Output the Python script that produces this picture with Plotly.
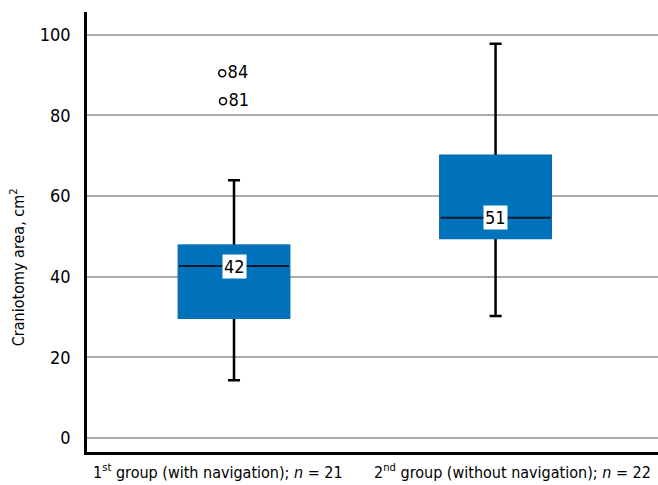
import plotly.graph_objects as go

# ---- data ----
groups = ["1<sup>st</sup> group (with navigation); <i>n</i> = 21",
          "2<sup>nd</sup> group (without navigation); <i>n</i> = 22"]
positions = [0, 1]
label_positions = [-0.061, 1.063]
q1 = [29.8, 49.6]
median = [42.6, 54.6]
q3 = [47.6, 69.9]
lower_whisker = [14.3, 30.2]
upper_whisker = [63.9, 97.7]
median_labels = ["42", "51"]
outlier_x = [-0.045, -0.042]
outlier_y = [90.4, 83.5]
outlier_labels = ["84", "81"]
y_ticks = [0, 20, 40, 60, 80, 100]

FONT = "DejaVu Sans Condensed"
BLUE = "#0072BC"
BOX_W = 0.42

fig = go.Figure()

fig.add_trace(go.Box(
    x=positions, q1=q1, median=median, q3=q3,
    lowerfence=lower_whisker, upperfence=upper_whisker,
    width=BOX_W, whiskerwidth=0.11,
    line=dict(color="black", width=2.5), fillcolor="black",
    boxpoints=False, hoverinfo="skip", showlegend=False))

fig.add_trace(go.Box(
    x=positions, q1=q1, median=median, q3=q3,
    lowerfence=q1, upperfence=q3,
    width=BOX_W, whiskerwidth=0,
    line=dict(color=BLUE, width=2.6), fillcolor=BLUE,
    boxpoints=False, hoverinfo="skip", showlegend=False))

for p, m in zip(positions, median):
    fig.add_trace(go.Scatter(
        x=[p - BOX_W / 2, p + BOX_W / 2], y=[m, m], mode="lines",
        line=dict(color="#0a1a2a", width=2), hoverinfo="skip", showlegend=False))

fig.add_trace(go.Scatter(
    x=outlier_x, y=outlier_y, mode="markers+text",
    marker=dict(symbol="circle-open", size=7, color="black", line=dict(width=1.5)),
    text=outlier_labels, textposition="middle right",
    textfont=dict(family=FONT, size=18, color="black"),
    hoverinfo="skip", showlegend=False))

for p, m, t in zip(positions, median, median_labels):
    fig.add_annotation(x=p, y=m, text=t, showarrow=False,
                       font=dict(family=FONT, size=18, color="black"),
                       bgcolor="white", borderpad=1,
                       xref="x", yref="y")

for p, t in zip(label_positions, groups):
    fig.add_annotation(x=p, y=0, xref="x", yref="paper", yanchor="top",
                       yshift=-7, text=t, showarrow=False,
                       font=dict(family=FONT, size=16, color="black"))

fig.add_annotation(x=-0.1226, y=0.42, xref="paper", yref="paper",
                   xanchor="center", yanchor="middle",
                   text="Craniotomy area, cm<sup>2</sup>", textangle=-90,
                   showarrow=False, font=dict(family=FONT, size=16, color="black"))

fig.update_layout(
    width=658, height=485,
    margin=dict(l=87, r=0, t=12, b=33),
    paper_bgcolor="white", plot_bgcolor="white",
    font=dict(family=FONT, size=18, color="black"),
    showlegend=False,
    boxmode="overlay",
)
fig.update_xaxes(
    range=[-0.562, 1.621], automargin=False,
    showticklabels=False,
    showgrid=False, zeroline=False,
    showline=True, linecolor="black", linewidth=2.5,
    ticks="",
)
fig.update_yaxes(
    range=[-3.5, 105.6], automargin=False,
    tickvals=y_ticks,
    showgrid=True, gridcolor="#ababab", gridwidth=1.5,
    zeroline=False,
    showline=True, linecolor="black", linewidth=2.5,
    ticks="outside", ticklen=10, tickcolor="rgba(0,0,0,0)",
    tickfont=dict(family=FONT, size=18),
)

fig.write_html("out.html", config={"displayModeBar": False},
               post_script="document.body.style.margin='0';document.body.style.overflow='hidden';")
